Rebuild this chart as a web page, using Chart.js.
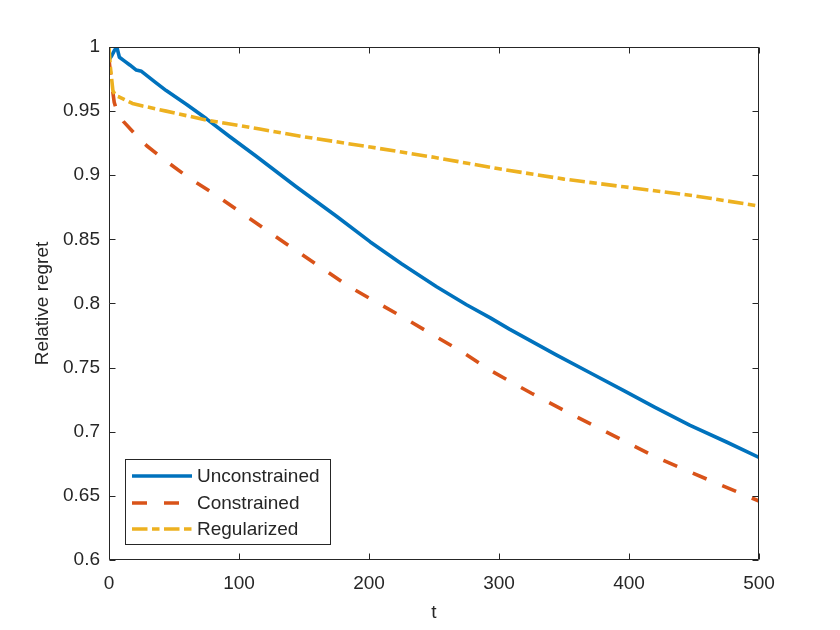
<!DOCTYPE html>
<html>
<head>
<meta charset="utf-8">
<script src="https://cdn.jsdelivr.net/npm/chart.js@4.4.0/dist/chart.umd.min.js"></script>
<style>
  html, body { margin: 0; padding: 0; background: #ffffff; }
  #wrap { width: 840px; height: 630px; position: relative; }
</style>
</head>
<body>
<div id="wrap"><canvas id="c" width="840" height="630"></canvas></div>
<script>
// ---- data ----
const seriesNames = ['Unconstrained', 'Constrained', 'Regularized'];

const tUnc = [0, 2, 4, 6, 8, 12, 16, 21, 25, 35, 44, 60, 75, 93, 113, 144, 175, 201, 225, 252, 275, 293, 308, 344, 370, 396, 420, 447, 475, 500];
const vUnc = [0.990, 0.993, 0.997, 1.000, 0.992, 0.989, 0.986, 0.982, 0.981, 0.973, 0.966, 0.955, 0.944, 0.930, 0.915, 0.891, 0.868, 0.848, 0.831, 0.813, 0.799, 0.789, 0.780, 0.760, 0.746, 0.732, 0.719, 0.705, 0.692, 0.680];

const tCon = [0, 2, 4, 6, 11, 21, 29, 44, 60, 80, 100, 140, 185, 230, 272, 293, 325, 357, 390, 421, 460, 500];
const vCon = [0.990, 0.972, 0.957, 0.950, 0.942, 0.931, 0.923, 0.911, 0.899, 0.886, 0.872, 0.844, 0.813, 0.787, 0.762, 0.748, 0.730, 0.713, 0.696, 0.680, 0.663, 0.646];

const tReg = [0, 1, 3, 5, 8, 18, 26, 44, 75, 93, 116, 150, 201, 250, 300, 350, 396, 450, 500];
const vReg = [1.000, 0.985, 0.966, 0.962, 0.961, 0.956, 0.954, 0.950, 0.943, 0.940, 0.936, 0.930, 0.922, 0.914, 0.905, 0.897, 0.891, 0.884, 0.876];

const xTicks = [0, 100, 200, 300, 400, 500];
const yTicks = [0.6, 0.65, 0.7, 0.75, 0.8, 0.85, 0.9, 0.95, 1];

// ---- styles ----
const colors = ['#0072BD', '#D95319', '#EDB120'];
const dashes = [[], [15, 17], [15.5, 4.5, 7.5, 4.5]];
const axisColor = '#262626';
const FONT = 'Arial, "Liberation Sans", Helvetica, sans-serif';
const FS = 19;

function pts(ts, vs) { return ts.map((t, i) => ({ x: t, y: vs[i] })); }

const seriesData = [pts(tUnc, vUnc), pts(tCon, vCon), pts(tReg, vReg)];

const boxPlugin = {
  id: 'matlabBox',
  afterDatasetsDraw(chart) {
    const ctx = chart.ctx;
    const ca = chart.chartArea;
    const xs = chart.scales.x, ys = chart.scales.y;
    const L = Math.round(ca.left) + 0.5, R = Math.round(ca.right) - 0.5;
    const T = Math.round(ca.top) + 0.5, B = Math.round(ca.bottom) - 0.5;
    ctx.save();
    ctx.strokeStyle = axisColor;
    ctx.lineWidth = 1;
    ctx.setLineDash([]);
    ctx.beginPath();
    ctx.rect(L, T, R - L, B - T);
    ctx.stroke();
    const tl = 6;
    ctx.beginPath();
    xTicks.forEach(v => {
      const px = Math.round(xs.getPixelForValue(v)) + 0.5;
      ctx.moveTo(px, B); ctx.lineTo(px, B - tl);
      ctx.moveTo(px, T); ctx.lineTo(px, T + tl);
    });
    yTicks.forEach(v => {
      const py = Math.round(ys.getPixelForValue(v)) + 0.5;
      ctx.moveTo(L, py); ctx.lineTo(L + tl, py);
      ctx.moveTo(R, py); ctx.lineTo(R - tl, py);
    });
    ctx.stroke();
    ctx.restore();
  },
  afterDraw(chart) {
    const ctx = chart.ctx;
    ctx.save();
    // legend box
    const bx = 125.5, by = 459.5, bw = 205, bh = 85;
    ctx.fillStyle = '#ffffff';
    ctx.fillRect(bx, by, bw, bh);
    ctx.strokeStyle = axisColor;
    ctx.lineWidth = 1;
    ctx.setLineDash([]);
    ctx.strokeRect(bx, by, bw, bh);
    const rows = [476, 503, 529];
    chart.data.datasets.forEach((ds, i) => {
      const y = rows[i];
      ctx.strokeStyle = ds.borderColor;
      ctx.lineWidth = ds.borderWidth;
      ctx.setLineDash(ds.borderDash || []);
      ctx.lineCap = 'butt';
      ctx.beginPath();
      ctx.moveTo(132, y);
      ctx.lineTo(192, y);
      ctx.stroke();
      ctx.setLineDash([]);
      ctx.fillStyle = axisColor;
      ctx.font = FS + 'px ' + FONT;
      ctx.textAlign = 'left';
      ctx.textBaseline = 'middle';
      ctx.fillText(ds.label, 197, y + 1);
    });
    ctx.restore();
  }
};

const datasets = seriesNames.map((name, i) => ({
  label: name,
  data: seriesData[i],
  borderColor: colors[i],
  backgroundColor: colors[i],
  borderWidth: 3.6,
  borderDash: dashes[i],
  borderCapStyle: 'butt',
  borderJoinStyle: 'round',
  pointRadius: 0,
  pointHoverRadius: 0,
  fill: false,
  tension: 0,
  order: 3 - i
}));

new Chart(document.getElementById('c'), {
  type: 'line',
  data: { datasets },
  plugins: [boxPlugin],
  options: {
    responsive: false,
    animation: false,
    devicePixelRatio: 1,
    parsing: true,
    events: [],
    layout: { padding: { left: 0, right: 81, top: 47, bottom: 0 } },
    plugins: {
      legend: { display: false },
      tooltip: { enabled: false },
      title: { display: false }
    },
    scales: {
      x: {
        type: 'linear',
        min: 0, max: 500,
        afterFit: s => { s.height = 70; },
        afterBuildTicks: s => { s.ticks = xTicks.map(v => ({ value: v })); },
        grid: { display: false, drawTicks: false },
        border: { display: false },
        ticks: {
          color: axisColor,
          font: { family: FONT, size: FS },
          padding: 12,
          maxRotation: 0,
          autoSkip: false,
          callback: v => String(v)
        },
        title: {
          display: true,
          text: 't',
          color: axisColor,
          font: { family: FONT, size: FS },
          padding: { top: 0, bottom: 6 }
        }
      },
      y: {
        type: 'linear',
        min: 0.6, max: 1,
        afterFit: s => { s.width = 109; },
        afterBuildTicks: s => { s.ticks = yTicks.map(v => ({ value: v })); },
        grid: { display: false, drawTicks: false },
        border: { display: false },
        ticks: {
          color: axisColor,
          font: { family: FONT, size: FS },
          padding: 9,
          autoSkip: false,
          callback: v => String(Math.round(v * 100) / 100)
        },
        title: {
          display: true,
          text: 'Relative regret',
          color: axisColor,
          font: { family: FONT, size: FS },
          padding: { top: 31, bottom: 0 }
        }
      }
    }
  }
});
</script>
</body>
</html>
